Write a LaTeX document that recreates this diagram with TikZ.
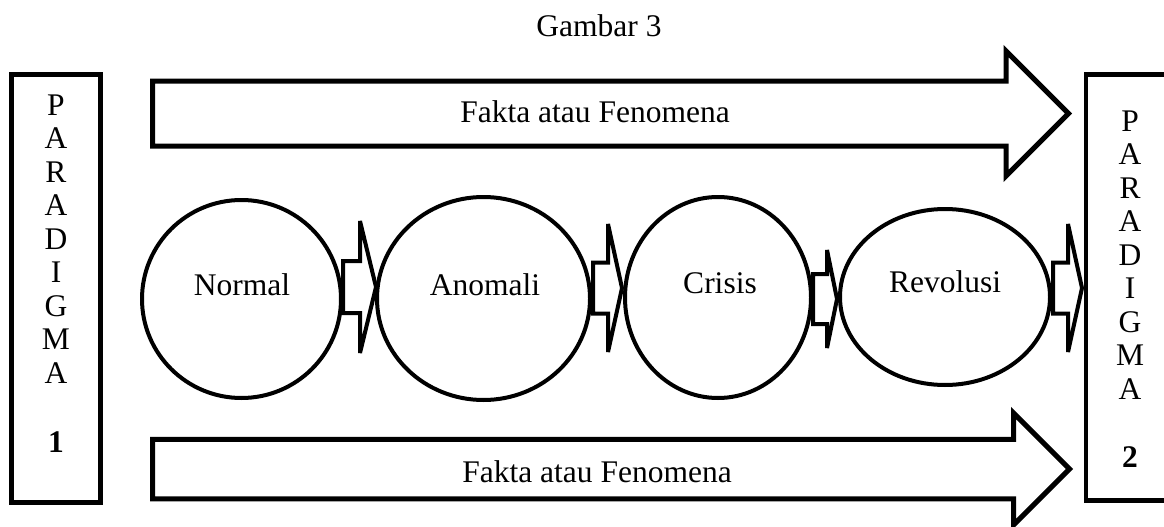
\documentclass[tikz,border=0pt]{standalone}
\usepackage{fontspec}
\setmainfont{Liberation Serif}
\usetikzlibrary{shapes.geometric}
% block arrow: #1 style, #2 x start, #3 x head base, #4 x tip, #5 y centre, #6 bar half height, #7 head half height
\newcommand\blkarrow[7]{%
  \draw[#1] (#2,#5-#6) -- (#3,#5-#6) -- (#3,#5-#7) -- (#4,#5) -- (#3,#5+#7)
    -- (#3,#5+#6) -- (#2,#5+#6) -- cycle;}
\begin{document}
\begin{tikzpicture}[x=1pt,y=-1pt,
  txt/.style={font=\fontsize{31.5}{33.5}\selectfont, inner sep=0, anchor=base},
  bigarr/.style={draw, line width=5pt, line join=miter, fill=white},
  smallarr/.style={draw, line width=4pt, line join=miter, miter limit=3, fill=white},
  stage/.style={draw, ellipse, line width=4pt, inner sep=0, fill=white},
  parabox/.style={draw, line width=4.5pt, inner sep=0}]
\useasboundingbox (0,0) rectangle (1164,527);
\clip (0,0) rectangle (1164,527);

% title
\node[txt] (title) at (599,37) {Gambar 3};

% paradigm boxes
\node[parabox, minimum width=89pt, minimum height=428pt] (para1) at (56,288.6) {};
\node[parabox, minimum width=89pt, minimum height=426pt] (para2) at (1130.5,287.5) {};
\foreach \l [count=\i from 0] in {P,A,R,A,D,I,G,M,A} {
  \node[txt] (pa\i) at (56,115+33.5*\i) {\l};
  \node[txt] (pb\i) at (1130,131+33.5*\i) {\l};
}
\node[txt] (one) at (56,452) {\textbf{1}};
\node[txt] (two) at (1130,467) {\textbf{2}};

% fact arrows
\blkarrow{bigarr}{152.5}{1006}{1068.5}{113.5}{32.5}{62.5}
\node[txt] (fakta1) at (595,122) {Fakta atau Fenomena};
\blkarrow{bigarr}{152.5}{1013.5}{1069.5}{469}{29.75}{56}
\node[txt] (fakta2) at (597,482) {Fakta atau Fenomena};

% stages
\node[stage, minimum width=199pt, minimum height=198pt] (normal) at (241.5,299) {};
\node[stage, minimum width=213pt, minimum height=203pt] (anomali) at (483.5,298.5) {};
\node[stage, minimum width=186pt, minimum height=201pt] (crisis) at (718,297.5) {};
\node[stage, minimum width=210pt, minimum height=176pt] (revolusi) at (945,297) {};
\node[txt] (normalt) at (242,295) {Normal};
\node[txt] (anomalit) at (485,295) {Anomali};
\node[txt] (crisist) at (720,293) {Crisis};
\node[txt] (revolusit) at (945,292) {Revolusi};

% connectors between stages
\blkarrow{smallarr}{343}{360}{376}{287}{26}{66}
\blkarrow{smallarr}{593}{608}{622}{288}{25.5}{64}
\blkarrow{smallarr}{813}{827}{837}{299}{25}{49}
\blkarrow{smallarr}{1053}{1068}{1082}{288}{25.5}{64}
\end{tikzpicture}
\end{document}
